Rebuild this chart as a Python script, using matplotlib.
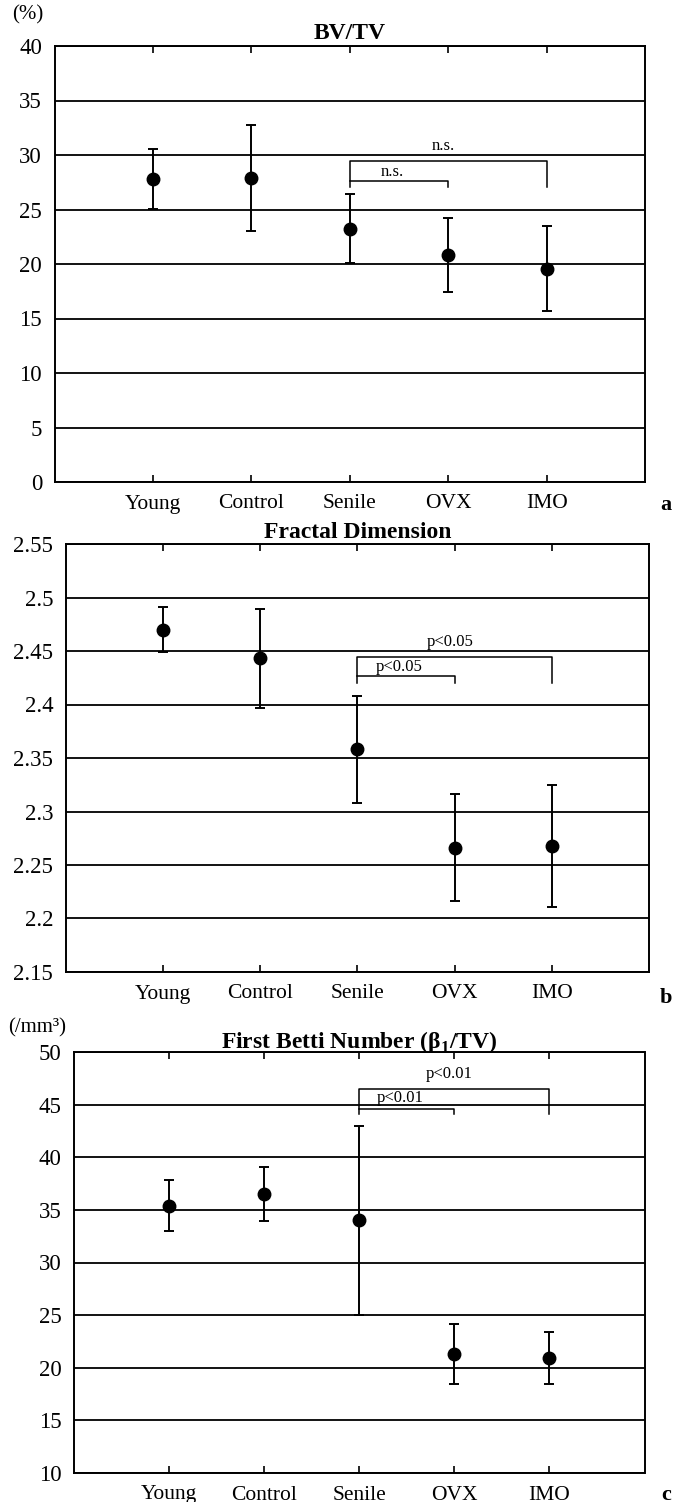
import matplotlib
matplotlib.use("Agg")
import matplotlib.pyplot as plt

# --- data ---
groups = ["Young", "Control", "Senile", "OVX", "IMO"]
xpos = [1, 2, 3, 4, 5]

bvtv_mean = [27.8, 27.9, 23.25, 20.8, 19.55]
bvtv_err = [2.75, 4.85, 3.2, 3.4, 3.9]

fd_mean = [2.470, 2.443, 2.358, 2.266, 2.268]
fd_err = [0.021, 0.046, 0.050, 0.050, 0.057]

betti_mean = [35.4, 36.5, 34.0, 21.3, 20.93]
betti_err = [2.4, 2.55, 9.0, 2.85, 2.45]

# significance brackets: (small bar y, big bar y, leg end y)
bvtv_brackets = (27.6, 29.45, 27.1)
fd_brackets = (2.4265, 2.444, 2.4205)
betti_brackets = (44.6, 46.5, 44.15)

plt.rcParams["font.family"] = ["Liberation Serif", "DejaVu Serif"]
plt.rcParams["mathtext.fontset"] = "custom"
plt.rcParams["mathtext.rm"] = "Liberation Serif"
plt.rcParams["mathtext.bf"] = "Liberation Serif:bold"

W, H = 685, 1502
fig = plt.figure(figsize=(W / 100, H / 100), dpi=100)
fig.patch.set_facecolor("white")


def rect(left, right, top, bottom):
    return [left / W, 1 - bottom / H, (right - left) / W, (bottom - top) / H]


def panel(box, mean, err, ylim, yticks, ylabels, title, title_pad, brackets, sig, lab_y):
    ax = fig.add_axes(box)
    ax.set_xlim(0, 6)
    ax.set_ylim(*ylim)
    ax.set_yticks(yticks)
    ax.set_yticklabels(ylabels)
    ax.set_xticks(xpos)
    ax.set_xticklabels(groups)
    ax.yaxis.grid(True, color="black", lw=1.3)
    ax.set_axisbelow(True)
    ax.tick_params(axis="x", direction="in", top=True, length=5, width=1.2,
                   pad=9, labelsize=15.5)
    ax.tick_params(axis="y", length=0, pad=9, labelsize=16.5)
    for s in ax.spines.values():
        s.set_linewidth(1.4)

    ax.errorbar(xpos, mean, yerr=err, fmt="o", color="black", ms=9,
                elinewidth=1.4, capsize=3.5, capthick=1.4, zorder=3)

    small, big, leg = brackets
    ax.plot([3, 3, 5, 5], [leg, big, big, leg], color="black", lw=1.1, zorder=3)
    ax.plot([3, 4, 4], [small, small, leg], color="black", lw=1.1, zorder=3)
    ax.text(3.95, lab_y[1], sig, ha="center", va="center", fontsize=12)
    ax.text(3.43, lab_y[0], sig, ha="center", va="center", fontsize=12)

    ax.set_title(title, fontsize=17, fontweight="bold", pad=title_pad)
    return ax


ax_a = panel(rect(54.6, 645, 46, 482), bvtv_mean, bvtv_err, (0, 40),
             range(0, 41, 5), [str(v) for v in range(0, 41, 5)],
             "BV/TV", 5, bvtv_brackets, "n.s.", (28.4, 30.8))

fd_ticks = [2.15, 2.2, 2.25, 2.3, 2.35, 2.4, 2.45, 2.5, 2.55]
ax_b = panel(rect(65.7, 649, 544, 972), fd_mean, fd_err, (2.15, 2.55),
             fd_ticks, ["%g" % v for v in fd_ticks],
             "Fractal Dimension", 4, fd_brackets, "p<0.05", (2.4353, 2.4587))

ax_c = panel(rect(73.9, 644.5, 1052, 1473), betti_mean, betti_err, (10, 50),
             range(10, 51, 5), [str(v) for v in range(10, 51, 5)],
             "First Betti Number (β$_\\mathbf{1}$/TV)", 3, betti_brackets,
             "p<0.01", (45.6, 47.95))

fig.text(28 / W, 1 - 15 / H, "(%)", ha="center", va="center", fontsize=15)
fig.text(37 / W, 1 - 1028 / H, "(/mm³)", ha="center", va="center", fontsize=15)

for letter, y in [("a", 505), ("b", 998), ("c", 1495)]:
    fig.text(666 / W, 1 - y / H, letter, ha="center", va="center",
             fontsize=16, fontweight="bold")

fig.savefig("out.png", dpi=100)
